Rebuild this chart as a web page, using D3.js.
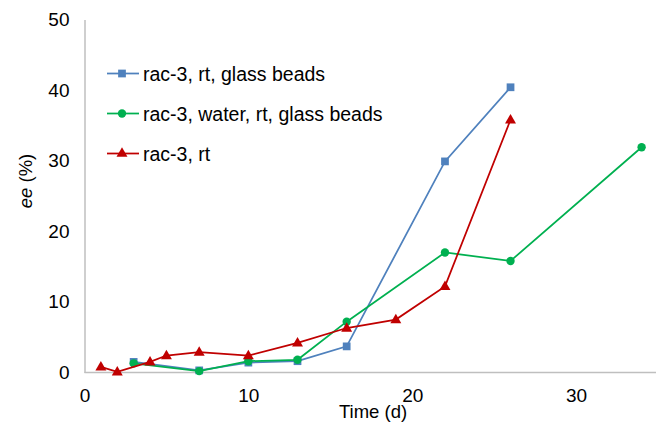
<!DOCTYPE html>
<html>
<head>
<meta charset="utf-8">
<script src="https://cdn.jsdelivr.net/npm/d3@7"></script>
<style>
  html, body { margin: 0; padding: 0; background: #fff; }
  svg { display: block; font-family: "Liberation Sans", Arial, sans-serif; }
</style>
</head>
<body>
<svg id="chart" width="656" height="422"></svg>
<script>
// Series: time in days and enantiomeric excess (%)
const seriesNames = ["rac-3, rt, glass beads", "rac-3, water, rt, glass beads", "rac-3, rt"];
const seriesColors = ["#4F81BD", "#00B050", "#C00000"];
const seriesSymbols = ["square", "circle", "triangle"];

const beadsDays = [3, 7, 10, 13, 16, 22, 26];
const beadsEe   = [1.5, 0.3, 1.4, 1.6, 3.7, 29.9, 40.4];

const waterDays = [3, 7, 10, 13, 16, 22, 26, 34];
const waterEe   = [1.3, 0.2, 1.6, 1.8, 7.2, 17.0, 15.8, 31.9];

const rtDays = [1, 2, 4, 5, 7, 10, 13, 16, 19, 22, 26];
const rtEe   = [0.8, 0.1, 1.5, 2.4, 2.9, 2.4, 4.2, 6.3, 7.5, 12.2, 35.8];

const xTicks = [0, 10, 20, 30];
const yTicks = [0, 10, 20, 30, 40, 50];

const series = [
  { days: beadsDays, ee: beadsEe },
  { days: waterDays, ee: waterEe },
  { days: rtDays, ee: rtEe }
].map((s, i) => ({
  name: seriesNames[i],
  color: seriesColors[i],
  symbol: seriesSymbols[i],
  points: s.days.map((d, j) => ({ x: d, y: s.ee[j] }))
}));

const svg = d3.select("#chart");
const x = d3.scaleLinear().domain([0, 35]).range([84.5, 658]);
const y = d3.scaleLinear().domain([0, 50]).range([372.5, 19.5]);

const axisColor = "#BFBFBF";
const fontFamily = "Liberation Sans, Arial, sans-serif";

// x axis
const xAxis = svg.append("g").attr("transform", `translate(0,${y(0)})`)
  .call(d3.axisBottom(x).tickValues(xTicks).tickSize(0).tickPadding(16).tickFormat(d3.format("d")));
xAxis.select(".domain").attr("stroke", axisColor).attr("stroke-width", 1.5).attr("d", `M${x(0)},0H656`);
xAxis.selectAll("text").attr("font-size", 19).attr("fill", "#000").attr("font-family", fontFamily);

// y axis
const yAxis = svg.append("g").attr("transform", `translate(${x(0)},0)`)
  .call(d3.axisLeft(y).tickValues(yTicks).tickSize(0).tickPadding(15).tickFormat(d3.format("d")));
yAxis.select(".domain").attr("stroke", axisColor).attr("stroke-width", 1.5);
yAxis.selectAll("text").attr("font-size", 19).attr("fill", "#000").attr("font-family", fontFamily);

// axis titles
svg.append("text")
  .attr("x", 373).attr("y", 418)
  .attr("text-anchor", "middle").attr("font-size", 18.5).attr("fill", "#000")
  .text("Time (d)");

const yTitle = svg.append("text")
  .attr("transform", "translate(32,181) rotate(-90)")
  .attr("text-anchor", "middle").attr("font-size", 18.5).attr("fill", "#000");
yTitle.append("tspan").attr("font-style", "italic").text("ee");
yTitle.append("tspan").text(" (%)");

// marker shapes
function symbolPath(kind) {
  if (kind === "square") return d3.symbol(d3.symbolSquare, 60)();
  if (kind === "circle") return d3.symbol(d3.symbolCircle, 55)();
  return d3.symbol(d3.symbolTriangle, 52)();
}

const line = d3.line().x(d => x(d.x)).y(d => y(d.y));

series.forEach(s => {
  const g = svg.append("g");
  g.append("path").attr("d", line(s.points))
    .attr("fill", "none").attr("stroke", s.color).attr("stroke-width", 1.75);
  g.selectAll("path.mk").data(s.points).enter().append("path")
    .attr("class", "mk")
    .attr("d", symbolPath(s.symbol))
    .attr("transform", d => `translate(${x(d.x)},${y(d.y) + (s.symbol === "triangle" ? 0.5 : 0)})`)
    .attr("fill", s.color);
});

// legend
const legend = svg.append("g");
series.forEach((s, i) => {
  const ly = 73.5 + i * 40;
  legend.append("line").attr("x1", 107).attr("x2", 139).attr("y1", ly).attr("y2", ly)
    .attr("stroke", s.color).attr("stroke-width", 1.75);
  legend.append("path").attr("d", symbolPath(s.symbol))
    .attr("transform", `translate(122,${ly})`).attr("fill", s.color);
  legend.append("text").attr("x", 143).attr("y", ly + 7)
    .attr("font-size", 19.5).attr("fill", "#000").text(s.name);
});
</script>
</body>
</html>
